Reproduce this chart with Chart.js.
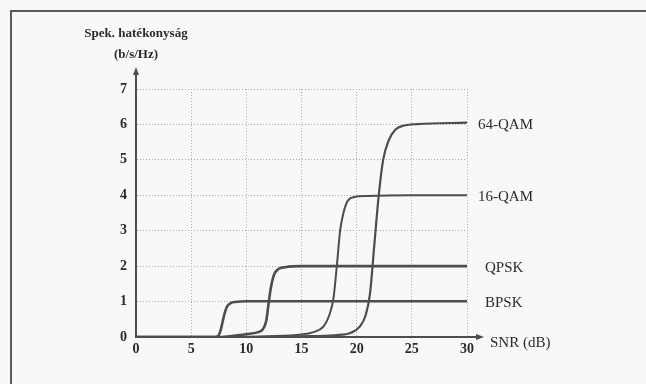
<!DOCTYPE html>
<html>
<head>
<meta charset="utf-8">
<script src="https://cdn.jsdelivr.net/npm/chart.js@4/dist/chart.umd.min.js"></script>
<style>
  html, body { margin: 0; padding: 0; background: #f7f8fa; }
  #wrap { width: 646px; height: 384px; }
</style>
</head>
<body>
<div id="wrap"><canvas id="myChart" width="646" height="384"></canvas></div>
<script>
// SNR samples (dB) and spectral efficiency (b/s/Hz) per modulation
const bpsk_snr = [0, 5, 7.2, 7.5, 7.7, 7.9, 8.1, 8.3, 8.6, 9, 10, 15, 20, 25, 30];
const bpsk_eff = [0, 0, 0, 0.05, 0.22, 0.5, 0.74, 0.88, 0.96, 0.99, 1.01, 1.01, 1.01, 1.01, 1.01];

const qpsk_snr = [0, 5, 7.5, 9, 10, 11, 11.5, 11.8, 12, 12.2, 12.5, 12.9, 13.5, 15, 20, 25, 30];
const qpsk_eff = [0, 0, 0, 0.04, 0.08, 0.13, 0.22, 0.45, 0.9, 1.35, 1.75, 1.92, 1.97, 2, 2, 2, 2];

const qam16_snr = [0, 8, 12, 15, 16, 17, 17.5, 17.9, 18.2, 18.5, 18.8, 19.2, 19.8, 21, 25, 30];
const qam16_eff = [0, 0, 0.02, 0.07, 0.13, 0.3, 0.6, 1.1, 2.0, 3.0, 3.5, 3.85, 3.95, 3.98, 4, 4];

const qam64_snr = [0, 10, 15, 18, 19.5, 20.3, 20.8, 21.2, 21.6, 22, 22.4, 22.9, 23.5, 24.3, 25.5, 30];
const qam64_eff = [0, 0, 0.02, 0.05, 0.12, 0.3, 0.6, 1.2, 2.6, 4.0, 5.0, 5.55, 5.85, 5.97, 6.01, 6.05];

const series_names = ["BPSK", "QPSK", "16-QAM", "64-QAM"];
const x_ticks = [0, 5, 10, 15, 20, 25, 30];
const y_ticks = [0, 1, 2, 3, 4, 5, 6, 7];

const ink = "#4d4d4d";
const serif = "'Liberation Serif', 'DejaVu Serif', serif";

function toPoints(xs, ys) {
  return xs.map((x, i) => ({ x: x, y: ys[i] }));
}

function makeSet(name, xs, ys, width) {
  return {
    label: name,
    data: toPoints(xs, ys),
    borderColor: ink,
    borderWidth: width,
    pointRadius: 0,
    fill: false,
    cubicInterpolationMode: "monotone"
  };
}

// Frame, axis arrows, axis titles and the curve names
const decor = {
  id: "decor",
  beforeDraw(chart) {
    const c = chart.ctx;
    c.save();
    c.fillStyle = "#f7f8fa";
    c.fillRect(0, 0, chart.width, chart.height);
    c.strokeStyle = "#5a5a5a";
    c.lineWidth = 2;
    c.beginPath();
    c.moveTo(11, chart.height);
    c.lineTo(11, 11);
    c.lineTo(chart.width, 11);
    c.stroke();
    c.restore();
  },
  afterDraw(chart) {
    const c = chart.ctx;
    const xs = chart.scales.x;
    const ys = chart.scales.y;
    const left = xs.getPixelForValue(0);
    const bottom = ys.getPixelForValue(0);
    const top = ys.getPixelForValue(7);
    const right = xs.getPixelForValue(30);
    c.save();
    c.strokeStyle = ink;
    c.fillStyle = ink;
    c.lineWidth = 2;

    // y arrow
    c.beginPath();
    c.moveTo(left, top);
    c.lineTo(left, top - 16);
    c.stroke();
    c.beginPath();
    c.moveTo(left, top - 22);
    c.lineTo(left - 3, top - 14);
    c.lineTo(left + 3, top - 14);
    c.closePath();
    c.fill();

    // x arrow
    c.beginPath();
    c.moveTo(right, bottom);
    c.lineTo(right + 12, bottom);
    c.stroke();
    c.beginPath();
    c.moveTo(right + 17, bottom);
    c.lineTo(right + 9, bottom - 3);
    c.lineTo(right + 9, bottom + 3);
    c.closePath();
    c.fill();

    c.fillStyle = "#2b2b2b";
    c.textBaseline = "middle";
    c.textAlign = "center";
    c.font = "bold 13px " + serif;
    c.fillText("Spek. hatékonyság", left, 34);
    c.fillText("(b/s/Hz)", left, 55);

    c.textAlign = "left";
    c.font = "15px " + serif;
    c.fillText("SNR (dB)", right + 23, bottom + 6);

    // names at the right end of each curve
    chart.data.datasets.forEach((ds) => {
      const last = ds.data[ds.data.length - 1];
      const qam = ds.label.indexOf("QAM") >= 0;
      const px = xs.getPixelForValue(last.x) + (qam ? 11 : 18);
      const py = ys.getPixelForValue(last.y) + 2;
      c.fillText(ds.label, px, py);
    });
    c.restore();
  }
};

const ctx = document.getElementById("myChart").getContext("2d");

const myChart = new Chart(ctx, {
  type: "line",
  data: {
    datasets: [
      makeSet(series_names[0], bpsk_snr, bpsk_eff, 2.6),
      makeSet(series_names[1], qpsk_snr, qpsk_eff, 2.6),
      makeSet(series_names[2], qam16_snr, qam16_eff, 2),
      makeSet(series_names[3], qam64_snr, qam64_eff, 2.2)
    ]
  },
  options: {
    responsive: false,
    animation: false,
    layout: { padding: { left: 0, top: 89, right: 179, bottom: 0 } },
    plugins: {
      legend: { display: false },
      tooltip: { enabled: false }
    },
    scales: {
      x: {
        type: "linear",
        min: x_ticks[0],
        max: x_ticks[x_ticks.length - 1],
        afterFit: (scale) => { scale.height = 47; },
        afterBuildTicks: (scale) => { scale.ticks = x_ticks.map((v) => ({ value: v })); },
        ticks: {
          padding: 4,
          color: "#2b2b2b",
          font: { family: serif, size: 14, weight: "bold" }
        },
        grid: {
          drawTicks: false,
          color: "#ababab",
          lineWidth: 1
        },
        border: { color: ink, width: 2, dash: [1, 2] }
      },
      y: {
        min: y_ticks[0],
        max: y_ticks[y_ticks.length - 1],
        afterFit: (scale) => { scale.width = 136; },
        afterBuildTicks: (scale) => { scale.ticks = y_ticks.map((v) => ({ value: v })); },
        ticks: {
          padding: 9,
          color: "#2b2b2b",
          font: { family: serif, size: 14, weight: "bold" }
        },
        grid: {
          drawTicks: false,
          color: "#ababab",
          lineWidth: 1
        },
        border: { color: ink, width: 2, dash: [1, 2] }
      }
    }
  },
  plugins: [decor]
});
</script>
</body>
</html>
